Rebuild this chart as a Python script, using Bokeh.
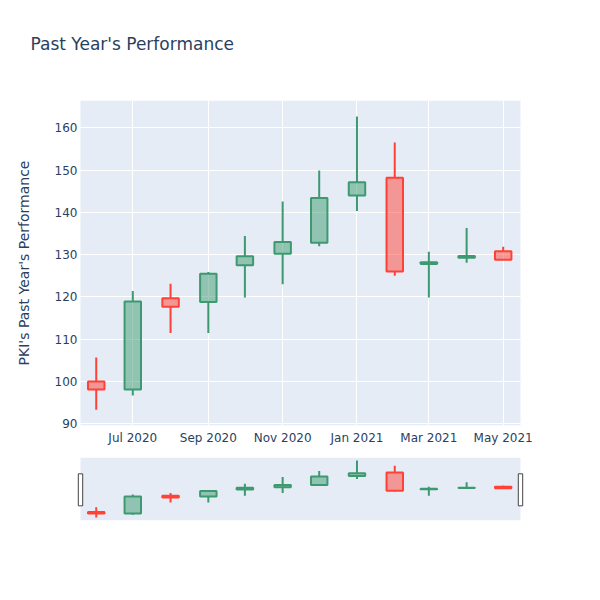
import pandas as pd
from bokeh.plotting import figure
from bokeh.layouts import column
from bokeh.models import Range1d, FixedTicker, DatetimeTickFormatter, ColumnDataSource
from bokeh.embed import file_html
from bokeh.resources import INLINE

# ---- data ----
dates = ["2020-06-01", "2020-07-01", "2020-08-01", "2020-09-01", "2020-10-01", "2020-11-01",
         "2020-12-01", "2021-01-01", "2021-02-01", "2021-03-01", "2021-04-01", "2021-05-01"]
opens = [100.0, 98.1, 119.7, 118.8, 127.5, 130.2, 132.8, 144.0, 148.2, 127.8, 129.3, 130.8]
highs = [105.7, 121.4, 123.1, 125.9, 134.4, 142.6, 149.9, 162.7, 156.5, 130.7, 136.3, 131.9]
lows = [93.3, 96.7, 111.5, 111.5, 119.9, 123.0, 132.0, 140.3, 125.0, 119.9, 128.1, 128.8]
closes = [98.1, 118.9, 117.7, 125.5, 129.6, 133.0, 143.4, 147.1, 126.0, 128.2, 129.7, 128.8]
x_tick_dates = ["2020-07-01", "2020-09-01", "2020-11-01", "2021-01-01", "2021-03-01", "2021-05-01"]
y_ticks = [90, 100, 110, 120, 130, 140, 150, 160]

title_text = "Past Year's Performance"
y_title = "PKI's Past Year's Performance"

INC = "#3D9970"
DEC = "#FF4136"
TXT = "#2a3f5f"
BG = "#E5ECF6"
FONT = "DejaVu Sans"

x_start = pd.Timestamp("2020-05-19 02:00")
x_end = pd.Timestamp("2021-05-15 05:00")
y_lo, y_hi = 89.6, 166.46
box_w = 13.5 * 86400000  # ms

dts = pd.to_datetime(dates)
inc = [c >= o for o, c in zip(opens, closes)]
src = ColumnDataSource(dict(
    x=dts,
    top=[max(o, c) for o, c in zip(opens, closes)],
    bottom=[min(o, c) for o, c in zip(opens, closes)],
    high=highs, low=lows,
    color=[INC if i else DEC for i in inc],
))

span = (x_end - x_start).value / 1e6
xs0 = x_start.value / 1e6
xs1 = x_end.value / 1e6
pad = span * 4 / 440          # 4px white strip either side of the plot area
FW = 448
BL = 76


def draw_candles(fig):
    fig.segment(x0="x", y0="high", x1="x", y1="top", line_color="color", line_width=2, source=src)
    fig.segment(x0="x", y0="low", x1="x", y1="bottom", line_color="color", line_width=2, source=src)
    fig.vbar(x="x", width=box_w, top="top", bottom="bottom", fill_color="color", fill_alpha=0.5,
             line_color="color", line_width=2, source=src)


def plot_bg(fig):
    fig.quad(left=[xs0], right=[xs1], bottom=[y_lo], top=[y_hi], fill_color=BG,
             line_color=None, level="image")


# ---- title strip ----
tf = figure(frame_width=FW, frame_height=2, output_backend="svg", toolbar_location=None,
            x_axis_location=None, y_axis_location=None,
            min_border_left=BL, min_border_right=BL, min_border_top=0, min_border_bottom=0,
            background_fill_color="white", border_fill_color="white", outline_line_color=None)
tf.grid.visible = False
tf.title.text = title_text
tf.title.text_font = FONT
tf.title.text_font_size = "17px"
tf.title.text_font_style = "normal"
tf.title.text_color = TXT
tf.title.align = "left"
tf.title.offset = -46
tf.title.standoff = 62

# ---- main chart ----
p = figure(x_axis_type="datetime", frame_width=FW, frame_height=325,
           x_range=Range1d(xs0 - pad, xs1 + pad), y_range=Range1d(y_lo, y_hi),
           output_backend="svg", toolbar_location=None,
           min_border_left=BL, min_border_right=BL, min_border_top=14, min_border_bottom=25,
           background_fill_color="white", border_fill_color="white", outline_line_color=None)
p.title.visible = False
plot_bg(p)
draw_candles(p)

p.xaxis.ticker = FixedTicker(ticks=[pd.Timestamp(d).value / 1e6 for d in x_tick_dates])
fmt = "%b %Y"
p.xaxis.formatter = DatetimeTickFormatter(days=fmt, months=fmt, years=fmt)
p.yaxis.ticker = FixedTicker(ticks=y_ticks)
for ax in (p.xaxis, p.yaxis):
    ax.axis_line_color = None
    ax.major_tick_line_color = None
    ax.minor_tick_line_color = None
    ax.major_tick_out = 0
    ax.major_tick_in = 0
    ax.major_label_text_font = FONT
    ax.major_label_text_font_size = "12px"
    ax.major_label_text_color = TXT
p.xaxis.major_label_standoff = 5
p.yaxis.major_label_standoff = -1
p.yaxis.axis_label = y_title
p.yaxis.axis_label_text_font = FONT
p.yaxis.axis_label_text_font_size = "14px"
p.yaxis.axis_label_text_font_style = "normal"
p.yaxis.axis_label_text_color = TXT
p.yaxis.axis_label_standoff = 20
p.grid.grid_line_color = "white"
p.grid.grid_line_width = 1

# ---- range slider ----
s = figure(x_axis_type="datetime", frame_width=FW, frame_height=63,
           x_range=Range1d(xs0 - pad, xs1 + pad), y_range=Range1d(y_lo, y_hi),
           output_backend="svg", toolbar_location=None,
           x_axis_location=None, y_axis_location=None,
           min_border_left=BL, min_border_right=BL, min_border_top=7, min_border_bottom=10,
           background_fill_color="white", border_fill_color="white", outline_line_color=None)
s.grid.visible = False
plot_bg(s)
draw_candles(s)
hw = span * 2.2 / 440
yr = y_hi - y_lo
s.quad(left=[xs0 - hw, xs1 - hw], right=[xs0 + hw, xs1 + hw],
       bottom=[y_lo + 0.233 * yr] * 2, top=[y_lo + 0.741 * yr] * 2,
       fill_color="white", line_color="#444444", line_width=1)

layout = column(tf, p, s, spacing=0)
open("out.html", "w").write(file_html(layout, INLINE))
